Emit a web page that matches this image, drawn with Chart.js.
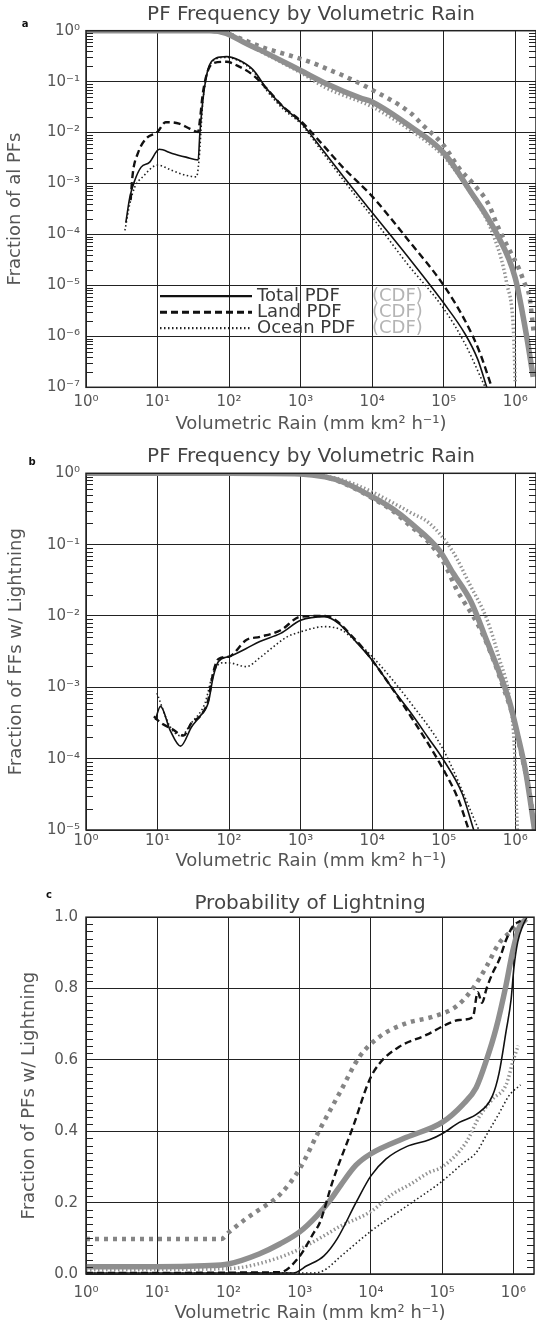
<!DOCTYPE html>
<html>
<head>
<meta charset="utf-8">
<title>PF Frequency by Volumetric Rain</title>
<script src="https://cdn.jsdelivr.net/npm/chart.js@4.4.1/dist/chart.umd.min.js"></script>
<style>
  html, body { margin: 0; padding: 0; background: #fff; }
  #wrap { position: relative; width: 536px; height: 1324px; }
  .panel { position: absolute; left: 0; width: 536px; }
  .panel canvas { display: block; }
</style>
</head>
<body>
<div id="wrap">
  <div class="panel" style="top:0;height:440px"><canvas id="chartA" width="536" height="440"></canvas></div>
  <div class="panel" style="top:440px;height:440px"><canvas id="chartB" width="536" height="440"></canvas></div>
  <div class="panel" style="top:880px;height:444px"><canvas id="chartC" width="536" height="444"></canvas></div>
</div>
<script>
// tick labels
const xTickLabels = ['10⁰', '10¹', '10²', '10³', '10⁴', '10⁵', '10⁶'];
const yTickLabelsA = ['10⁻⁷', '10⁻⁶', '10⁻⁵', '10⁻⁴', '10⁻³', '10⁻²', '10⁻¹', '10⁰'];
const yTickLabelsB = ['10⁻⁵', '10⁻⁴', '10⁻³', '10⁻²', '10⁻¹', '10⁰'];
const yTickLabelsC = ['0.0', '0.2', '0.4', '0.6', '0.8', '1.0'];
const legendNames = ['Total PDF', 'Land PDF', 'Ocean PDF'];

// panel a : fraction of all PFs (PDF) and cumulative (CDF)
const rainA_total = [3.6, 4.1, 4.8, 5.9, 7.7, 10.6, 16, 25, 37, 39, 43, 48, 53, 66, 92, 141, 217, 333, 570, 1000, 2000, 4000, 1e4, 3e4, 1e5, 2e5, 3e5, 4e5];
const pdfA_total = [1.7e-4, 5.4e-4, 1.15e-3, 2.1e-3, 2.6e-3, 4.7e-3, 3.9e-3, 3.3e-3, 2.9e-3, 9.5e-3, 0.043, 0.125, 0.21, 0.29, 0.31, 0.26, 0.17, 0.074, 0.032, 0.016, 4.7e-3, 1.35e-3, 2.7e-4, 4e-5, 4.5e-6, 1.1e-6, 3.5e-7, 1e-7];
const rainA_land = [4.2, 4.5, 5.3, 6.9, 10, 13, 20, 28, 37, 39, 43, 51, 60, 92, 141, 217, 333, 570, 1000, 1870, 4000, 1e4, 3.16e4, 1e5, 2e5, 3.16e5, 4.7e5];
const pdfA_land = [4.7e-4, 1.55e-3, 3.9e-3, 7.6e-3, 0.0103, 0.016, 0.015, 0.012, 0.0103, 0.017, 0.059, 0.17, 0.23, 0.245, 0.195, 0.134, 0.074, 0.032, 0.017, 6.6e-3, 2e-3, 5.6e-4, 7.9e-5, 1e-5, 2e-6, 5e-7, 1e-7];
const rainA_ocean = [3.5, 4.1, 4.8, 6.2, 10, 16, 25, 35, 38, 43, 48, 53, 66, 92, 141, 217, 333, 570, 1000, 2000, 4000, 1e4, 3e4, 1e5, 2e5, 3.8e5];
const pdfA_ocean = [1.2e-4, 4e-4, 8.5e-4, 1.35e-3, 2.3e-3, 1.8e-3, 1.45e-3, 1.35e-3, 2.9e-3, 0.04, 0.12, 0.2, 0.28, 0.30, 0.25, 0.16, 0.068, 0.029, 0.015, 4.2e-3, 1.15e-3, 2.2e-4, 2.8e-5, 3.5e-6, 7e-7, 1e-7];
const rainA_totalCdf = [1, 10, 30, 54, 91, 174, 269, 457, 1000, 2290, 6760, 1e4, 3.47e4, 1e5, 2.29e5, 5.37e5, 1e6, 1.41e6, 1.78e6];
const cdfA_total = [1, 1, 1, 1, 0.89, 0.56, 0.42, 0.29, 0.165, 0.091, 0.048, 0.040, 0.013, 4e-3, 7.5e-4, 1.1e-4, 1.4e-5, 1.2e-6, 1.6e-7];
const rainA_landCdf = [1, 10, 30, 54, 91, 174, 269, 457, 794, 1510, 2290, 4000, 1e4, 3.47e4, 4.9e4, 1e5, 1.66e5, 2.57e5, 4.17e5, 5.75e5, 8.32e5, 1.1e6, 1.35e6, 1.58e6, 1.8e6];
const cdfA_land = [1, 1, 1, 1, 0.89, 0.63, 0.49, 0.39, 0.31, 0.23, 0.18, 0.13, 0.069, 0.024, 0.0148, 5.6e-3, 1.95e-3, 1e-3, 4.1e-4, 1.4e-4, 4.9e-5, 2.3e-5, 1.1e-5, 6e-6, 1.3e-6];
const rainA_oceanCdf = [1, 10, 30, 54, 91, 174, 269, 457, 1000, 2290, 1e4, 3.47e4, 1e5, 2.29e5, 4.9e5, 7.6e5, 9.5e5, 1e6];
const cdfA_ocean = [1, 1, 1, 1, 0.88, 0.55, 0.40, 0.27, 0.15, 0.075, 0.032, 0.011, 3.4e-3, 7e-4, 1e-4, 1.1e-5, 1.1e-6, 1.2e-7];

// panel b : fraction of PFs with lightning
const rainB_total = [9.3, 11, 15, 21, 30, 39, 51, 60, 71, 100, 174, 269, 525, 1000, 2190, 3390, 5890, 1e4, 2e4, 3.47e4, 6e4, 1e5, 1.82e5, 2.63e5];
const pdfB_total = [3.5e-4, 5.4e-4, 2.5e-4, 1.5e-4, 2.8e-4, 3.9e-4, 6e-4, 1.4e-3, 2.3e-3, 2.7e-3, 3.5e-3, 4.4e-3, 5.7e-3, 8.7e-3, 9.8e-3, 7.9e-3, 4.4e-3, 2.4e-3, 9.1e-4, 4.4e-4, 2e-4, 9.5e-5, 3.2e-5, 1e-5];
const rainB_land = [8.9, 11, 16, 23, 30, 39, 51, 60, 71, 100, 174, 269, 525, 1000, 2190, 5890, 1e4, 3.47e4, 1e5, 1.62e5, 2.24e5];
const pdfB_land = [3.9e-4, 3.2e-4, 2.6e-4, 2.1e-4, 3.2e-4, 3.9e-4, 6.6e-4, 1.6e-3, 2.5e-3, 2.7e-3, 4.6e-3, 5.1e-3, 6.3e-3, 9.8e-3, 1.0e-2, 4.6e-3, 2.4e-3, 3.9e-4, 6.9e-5, 2.6e-5, 1e-5];
const rainB_ocean = [9.8, 15, 21, 30, 46, 60, 79, 100, 174, 269, 417, 646, 1000, 2190, 3800, 5890, 1e4, 3.47e4, 1e5, 3.1e5];
const pdfB_ocean = [8.3e-4, 2.8e-4, 2.1e-4, 3.2e-4, 6e-4, 1.6e-3, 2.2e-3, 2.2e-3, 1.95e-3, 2.6e-3, 3.7e-3, 5.1e-3, 6e-3, 7.1e-3, 6.3e-3, 4.4e-3, 2.7e-3, 6e-4, 1.3e-4, 1e-5];
const rainB_totalCdf = [1, 10, 100, 1000, 2190, 3800, 1e4, 2e4, 3.47e4, 8.7e4, 1.35e5, 2.4e5, 4e5, 6e5, 8.3e5, 1.1e6, 1.41e6, 1.66e6, 1.86e6];
const cdfB_total = [1, 1, 1, 0.98, 0.89, 0.76, 0.47, 0.31, 0.2, 0.083, 0.04, 0.016, 4.5e-3, 1.6e-3, 6.3e-4, 2e-4, 6.3e-5, 2.2e-5, 1e-5];
const rainB_landCdf = [1, 10, 100, 1000, 2190, 3800, 1e4, 2e4, 3.47e4, 5.6e4, 1e5, 1.5e5, 3.16e5, 4.9e5, 6.8e5, 9.5e5, 1.15e6, 1.58e6, 1.86e6];
const cdfB_land = [1, 1, 1, 0.98, 0.89, 0.74, 0.45, 0.29, 0.18, 0.12, 0.056, 0.024, 6.9e-3, 2.5e-3, 1e-3, 3.6e-4, 1.5e-4, 3.4e-5, 1.15e-5];
const rainB_oceanCdf = [1, 10, 100, 1000, 2000, 3800, 1e4, 2e4, 3.47e4, 6.3e4, 1.35e5, 2.3e5, 4e5, 6e5, 8.3e5, 9.8e5, 1.02e6, 1.07e6];
const cdfB_ocean = [1, 1, 1, 1, 0.93, 0.81, 0.55, 0.38, 0.28, 0.2, 0.079, 0.028, 9.1e-3, 2.5e-3, 6.9e-4, 1.26e-4, 3.4e-5, 1e-5];

// panel c : probability of lightning
const rainC_total = [1, 813, 1260, 2190, 3390, 6170, 1e4, 1.62e4, 3.16e4, 6.6e4, 1e5, 1.74e5, 3.16e5, 5.1e5, 6.3e5, 7.9e5, 9.3e5, 1.02e6, 1.15e6, 1.35e6, 1.55e6];
const probC_total = [0.003, 0.003, 0.023, 0.051, 0.10, 0.2, 0.275, 0.322, 0.357, 0.376, 0.393, 0.425, 0.45, 0.5, 0.563, 0.68, 0.77, 0.86, 0.93, 0.975, 1.0];
const rainC_land = [1, 525, 1000, 1580, 1900, 2950, 5620, 9550, 1.32e4, 2.5e4, 6e4, 1.26e5, 1.74e5, 2.7e5, 3.16e5, 3.63e5, 4.2e5, 5.1e5, 6.3e5, 7.9e5, 9.8e5, 1.26e6];
const probC_land = [0.003, 0.005, 0.05, 0.116, 0.142, 0.264, 0.413, 0.544, 0.59, 0.637, 0.67, 0.703, 0.712, 0.72, 0.79, 0.76, 0.80, 0.843, 0.88, 0.936, 0.974, 0.99];
const rainC_ocean = [1, 1580, 2190, 3800, 1e4, 3.16e4, 1e5, 1.95e5, 3e5, 4.2e5, 6.3e5, 8.7e5, 1.26e6];
const probC_ocean = [0.002, 0.003, 0.01, 0.05, 0.12, 0.19, 0.26, 0.31, 0.34, 0.39, 0.45, 0.5, 0.53];
const rainC_totalCdf = [1, 10, 46, 100, 269, 525, 1000, 1740, 2750, 3800, 6170, 1e4, 3.16e4, 1e5, 1.95e5, 3e5, 4.2e5, 5.75e5, 7.9e5, 9.8e5, 1.2e6, 1.5e6];
const probC_totalCdf = [0.02, 0.02, 0.023, 0.028, 0.056, 0.084, 0.118, 0.163, 0.21, 0.25, 0.305, 0.337, 0.383, 0.425, 0.475, 0.522, 0.60, 0.69, 0.81, 0.905, 0.97, 0.995];
const rainC_landCdf = [1, 79, 100, 174, 269, 525, 1000, 1900, 3630, 6920, 1.32e4, 3.16e4, 7.4e4, 1.58e5, 2.7e5, 4.2e5, 6.3e5, 9.8e5, 1.35e6];
const probC_landCdf = [0.098, 0.098, 0.116, 0.154, 0.18, 0.222, 0.295, 0.404, 0.507, 0.609, 0.665, 0.703, 0.721, 0.75, 0.80, 0.862, 0.927, 0.964, 0.99];
const rainC_oceanCdf = [1, 100, 417, 1000, 2190, 3800, 1e4, 2.04e4, 3.47e4, 6.6e4, 1e5, 2.19e5, 3.3e5, 5.1e5, 7.9e5, 1e6, 1.17e6];
const probC_oceanCdf = [0.012, 0.015, 0.04, 0.07, 0.107, 0.135, 0.175, 0.225, 0.25, 0.285, 0.30, 0.37, 0.44, 0.49, 0.53, 0.6, 0.64];

const FONT = '"DejaVu Sans", "Liberation Sans", sans-serif';
const TEXT = '#555';
const GRID = '#222';
const X_MAX = 1.95e6;

// line looks: black PDFs, thick grey CDFs
const STYLE = {
  total:    { borderColor: '#111', borderWidth: 1.6, borderDash: [] },
  land:     { borderColor: '#111', borderWidth: 2.4, borderDash: [7, 4] },
  ocean:    { borderColor: '#222', borderWidth: 1.6, borderDash: [1.5, 2.5] },
  totalCdf: { borderColor: '#8f8f8f', borderWidth: 5.5, borderDash: [] },
  landCdf:  { borderColor: '#858585', borderWidth: 4.5, borderDash: [4, 5] },
  oceanCdf: { borderColor: '#939393', borderWidth: 3.5, borderDash: [1.5, 2.5] }
};

const pts = (xs, ys) => xs.map((x, i) => ({ x: x, y: ys[i] }));
const ds = (xs, ys, style) => Object.assign({ data: pts(xs, ys), fill: false, pointRadius: 0, cubicInterpolationMode: 'monotone' }, STYLE[style]);

function isDecade(v) {
  const l = Math.log10(v);
  return Math.abs(l - Math.round(l)) < 1e-6;
}
function isFifth(v) { return Math.abs(v * 5 - Math.round(v * 5)) < 1e-6; }

function logTicks(lo, hi, minor) {
  const t = [];
  for (let e = lo; e <= hi; e++) {
    for (let m = 1; m <= (minor && e < hi ? 9 : 1); m++) t.push({ value: m * Math.pow(10, e) });
  }
  return t;
}

function drawLegend(ctx, a) {
  const looks = [STYLE.total, STYLE.land, STYLE.ocean];
  ctx.font = '18px ' + FONT;
  ctx.textBaseline = 'middle';
  ctx.textAlign = 'left';
  legendNames.forEach((name, i) => {
    const yy = a.top + 265.5 + i * 16;
    ctx.beginPath();
    ctx.setLineDash(looks[i].borderDash);
    ctx.lineWidth = looks[i].borderWidth + 0.6;
    ctx.strokeStyle = looks[i].borderColor;
    ctx.moveTo(a.left + 74, yy);
    ctx.lineTo(a.left + 166, yy);
    ctx.stroke();
    ctx.setLineDash([]);
    ctx.fillStyle = '#3a3a3a';
    ctx.fillText(name, a.left + 171, yy);
    ctx.fillStyle = '#b4b4b4';
    ctx.fillText('(CDF)', a.left + 286, yy);
  });
}

// frame, inward minor ticks, panel letter and the legend of panel a
const decor = {
  id: 'decor',
  afterDraw(chart, args, opts) {
    const { ctx, chartArea: a, scales: { y } } = chart;
    ctx.save();
    ctx.strokeStyle = GRID;
    ctx.lineWidth = 1;
    ctx.beginPath();
    y.ticks.forEach(t => {
      const major = opts.kind === 'log' ? isDecade(t.value) : isFifth(t.value);
      if (major) return;
      const py = Math.round(y.getPixelForValue(t.value)) + 0.5;
      ctx.moveTo(a.left, py); ctx.lineTo(a.left + 7, py);
      ctx.moveTo(a.right, py); ctx.lineTo(a.right - 7, py);
    });
    ctx.stroke();
    ctx.lineWidth = 1.5;
    ctx.strokeRect(a.left, a.top, a.right - a.left, a.bottom - a.top);
    ctx.fillStyle = '#111';
    ctx.font = 'bold 10px ' + FONT;
    ctx.textAlign = 'center';
    ctx.textBaseline = 'middle';
    ctx.fillText(opts.letter, opts.lx, opts.ly);
    if (opts.legend) drawLegend(ctx, a);
    ctx.restore();
  }
};

function makeChart(id, p) {
  const yLog = p.kind === 'log';
  const yScale = yLog ? {
    type: 'logarithmic', min: p.yMin, max: 1,
    afterBuildTicks: s => { s.ticks = logTicks(Math.round(Math.log10(p.yMin)), 0, true); },
    ticks: { autoSkip: false, padding: p.yTickPad, color: TEXT, font: { family: FONT, size: 15 },
      callback: v => isDecade(v) ? p.yLabels[Math.round(Math.log10(v)) - Math.round(Math.log10(p.yMin))] : '' },
    grid: { drawTicks: false, lineWidth: 1, color: c => isDecade(c.tick.value) ? GRID : 'rgba(0,0,0,0)' }
  } : {
    type: 'linear', min: 0, max: 1,
    afterBuildTicks: s => { const t = []; for (let i = 0; i <= 50; i++) t.push({ value: i / 50 }); s.ticks = t; },
    ticks: { autoSkip: false, padding: p.yTickPad, color: TEXT, font: { family: FONT, size: 15 },
      callback: v => isFifth(v) ? p.yLabels[Math.round(v * 5)] : '' },
    grid: { drawTicks: false, lineWidth: 1, color: c => isFifth(c.tick.value) ? GRID : 'rgba(0,0,0,0)' }
  };
  yScale.afterFit = s => { s.width = 86; };
  yScale.border = { display: false };
  yScale.title = { display: true, text: p.yTitle, color: TEXT, font: { family: FONT, size: 18 }, padding: { top: p.yTitlePad, bottom: 0 } };

  return new Chart(document.getElementById(id), {
    type: 'line',
    data: { datasets: p.datasets },
    options: {
      responsive: false,
      animation: false,
      events: [],
      layout: { padding: 0 },
      plugins: {
        legend: { display: false },
        tooltip: { enabled: false },
        title: { display: true, text: p.title, fullSize: false, color: '#444',
          font: { family: FONT, size: 20, weight: 'normal', lineHeight: 1.2 },
          padding: { top: p.titlePad[0], bottom: p.titlePad[1] } },
        decor: { kind: p.kind, letter: p.letter, lx: p.letterPos[0], ly: p.letterPos[1], legend: !!p.legend }
      },
      scales: {
        x: {
          type: 'logarithmic', min: 1, max: X_MAX,
          afterBuildTicks: s => { s.ticks = logTicks(0, 6, false); },
          afterFit: s => { s.height = p.xAxisH; },
          border: { display: false },
          grid: { drawTicks: false, lineWidth: 1, color: GRID },
          ticks: { autoSkip: false, maxRotation: 0, padding: p.xTickPad, color: TEXT, font: { family: FONT, size: 15 },
            callback: v => xTickLabels[Math.round(Math.log10(v))] },
          title: { display: true, text: 'Volumetric Rain (mm km² h⁻¹)', color: TEXT, font: { family: FONT, size: 18 },
            padding: { top: 0, bottom: p.xTitlePad } }
        },
        y: yScale
      }
    },
    plugins: [decor]
  });
}

makeChart('chartA', {
  kind: 'log', yMin: 1e-7, yLabels: yTickLabelsA, letter: 'a', letterPos: [25, 24], legend: true,
  title: 'PF Frequency by Volumetric Rain', yTitle: 'Fraction of al PFs',
  titlePad: [3, 3.7], xAxisH: 52.7, xTickPad: 5.7, xTitlePad: 5.2, yTitlePad: 4.9, yTickPad: 6,
  datasets: [
    ds(rainA_total, pdfA_total, 'total'),
    ds(rainA_land, pdfA_land, 'land'),
    ds(rainA_ocean, pdfA_ocean, 'ocean'),
    ds(rainA_totalCdf, cdfA_total, 'totalCdf'),
    ds(rainA_landCdf, cdfA_land, 'landCdf'),
    ds(rainA_oceanCdf, cdfA_ocean, 'oceanCdf')
  ]
});

makeChart('chartB', {
  kind: 'log', yMin: 1e-5, yLabels: yTickLabelsB, letter: 'b', letterPos: [32, 22],
  title: 'PF Frequency by Volumetric Rain', yTitle: 'Fraction of FFs w/ Lightning',
  titlePad: [4.7, 4.6], xAxisH: 50, xTickPad: 2.5, xTitlePad: 7.5, yTitlePad: 5.2, yTickPad: 6,
  datasets: [
    ds(rainB_total, pdfB_total, 'total'),
    ds(rainB_land, pdfB_land, 'land'),
    ds(rainB_ocean, pdfB_ocean, 'ocean'),
    ds(rainB_totalCdf, cdfB_total, 'totalCdf'),
    ds(rainB_landCdf, cdfB_land, 'landCdf'),
    ds(rainB_oceanCdf, cdfB_ocean, 'oceanCdf')
  ]
});

makeChart('chartC', {
  kind: 'lin', yLabels: yTickLabelsC, letter: 'c', letterPos: [49, 15],
  title: 'Probability of Lightning', yTitle: 'Fraction of PFs w/ Lightning',
  titlePad: [11.3, 1.9], xAxisH: 50, xTickPad: 10, xTitlePad: 0, yTitlePad: 19, yTickPad: 8,
  datasets: [
    ds(rainC_total, probC_total, 'total'),
    ds(rainC_land, probC_land, 'land'),
    ds(rainC_ocean, probC_ocean, 'ocean'),
    ds(rainC_totalCdf, probC_totalCdf, 'totalCdf'),
    ds(rainC_landCdf, probC_landCdf, 'landCdf'),
    ds(rainC_oceanCdf, probC_oceanCdf, 'oceanCdf')
  ]
});
</script>
</body>
</html>
